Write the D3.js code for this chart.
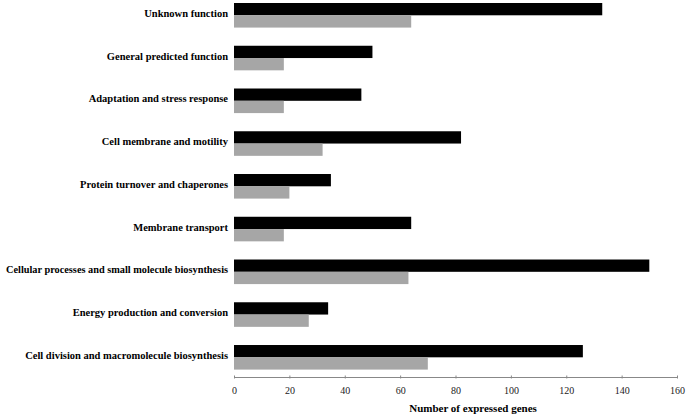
<!DOCTYPE html>
<html><head><meta charset="utf-8">
<script src="https://cdn.jsdelivr.net/npm/d3@7"></script>
<style>body{margin:0;background:#fff}svg{display:block}</style>
</head><body>
<svg id="c" width="687" height="417"></svg>
<script>
const categories = [
  "Unknown function",
  "General predicted function",
  "Adaptation and stress response",
  "Cell membrane and motility",
  "Protein turnover and chaperones",
  "Membrane transport",
  "Cellular processes and small molecule biosynthesis",
  "Energy production and conversion",
  "Cell division and macromolecule biosynthesis"
];
const seriesBlack = [133, 50, 46, 82, 35, 64, 150, 34, 126];
const seriesGray  = [64, 18, 18, 32, 20, 18, 63, 27, 70];
const xTicks = [0, 20, 40, 60, 80, 100, 120, 140, 160];
const xTitle = "Number of expressed genes";

const svg = d3.select("#c");
const font = "Liberation Serif, Times New Roman, serif";
const x = d3.scaleLinear().domain([0, 160]).range([234, 677]);
const y = d3.scaleBand().domain(categories).range([3, 369.6]).paddingInner(0.425).paddingOuter(0);
const sub = d3.scaleBand().domain(["black", "gray"]).range([0, y.bandwidth()]);

const data = categories.map((c, i) => ({c, black: seriesBlack[i], gray: seriesGray[i]}));
const colors = {black: "#000000", gray: "#a6a6a6"};

const g = svg.append("g");
data.forEach(d => {
  ["black", "gray"].forEach(k => {
    g.append("rect")
      .attr("x", x(0))
      .attr("y", y(d.c) + sub(k))
      .attr("width", x(d[k]) - x(0))
      .attr("height", sub.bandwidth())
      .attr("fill", colors[k]);
  });
});

// category labels
svg.append("g").selectAll("text").data(categories).join("text")
  .attr("x", 228)
  .attr("y", d => y(d) + y.bandwidth() / 2 - 2)
  .attr("text-anchor", "end")
  .attr("dominant-baseline", "central")
  .style("font-family", font)
  .style("font-weight", "bold")
  .style("font-size", "10.5px")
  .attr("fill", "#000")
  .text(d => d)
  .each(function() {
    const w = this.getComputedTextLength();
    if (w > 224) d3.select(this).attr("textLength", 222).attr("lengthAdjust", "spacingAndGlyphs");
  });

// x axis
const axis = svg.append("g").attr("transform", "translate(0,377)")
  .call(d3.axisBottom(x).tickValues(xTicks).tickSize(3).tickSizeOuter(0));
axis.select(".domain").attr("stroke", "#888");
axis.selectAll(".tick line").attr("stroke", "#888").attr("y1", -1.5).attr("y2", 1.5);
axis.selectAll(".tick text").style("font-family", font).style("font-size", "10px").attr("fill", "#222").attr("dy", 0).attr("y", 17);

svg.append("text")
  .attr("x", 473).attr("y", 412)
  .attr("text-anchor", "middle")
  .style("font-family", font)
  .style("font-weight", "bold")
  .style("font-size", "11px")
  .text(xTitle);
</script>
</body></html>
